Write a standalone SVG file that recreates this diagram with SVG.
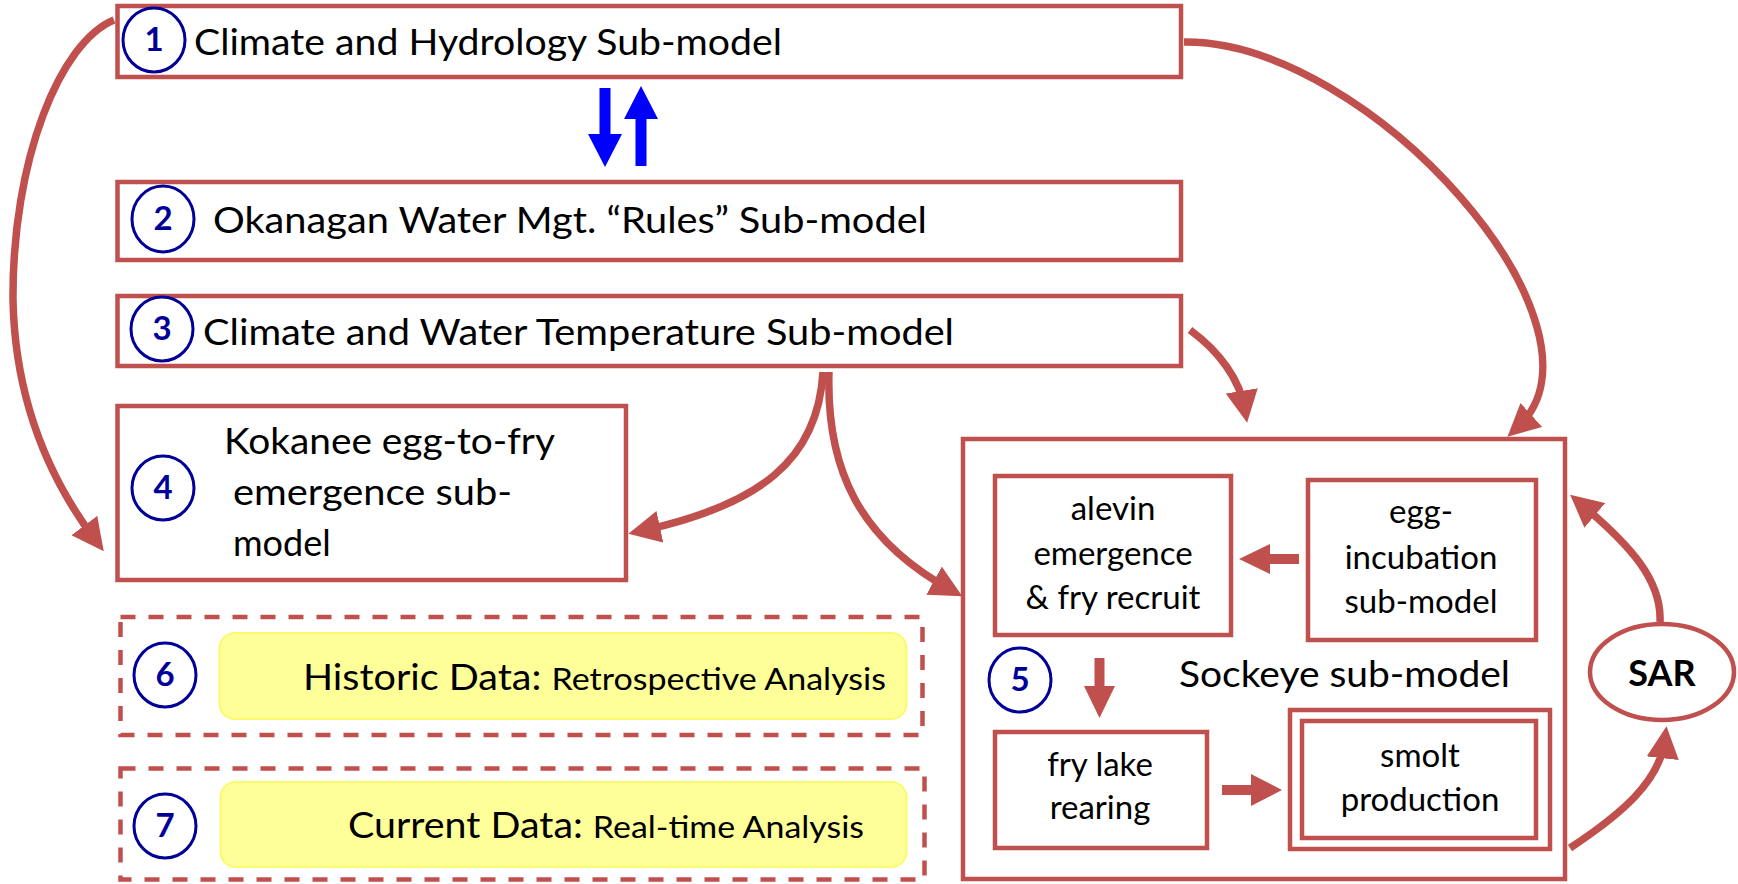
<svg xmlns="http://www.w3.org/2000/svg" width="1738" height="884" viewBox="0 0 1738 884">
  <style>
    .box { fill: #ffffff; stroke: #C0504D; stroke-width: 4.5; }
    .dash { fill: none; stroke: #C0504D; stroke-width: 4.5; stroke-dasharray: 15 13; }
    .note { fill: #FFFF99; stroke: #FAFA6E; stroke-width: 2; }
    .num { fill: #ffffff; stroke: #000099; stroke-width: 3; }
    .numt { font-family: Lato, "Liberation Sans", sans-serif; font-weight: bold; font-size: 33px; fill: #000099; text-anchor: middle; }
    .t { font-family: Lato, "Liberation Sans", sans-serif; font-size: 36px; fill: #000000; }
    .ts { font-family: Lato, "Liberation Sans", sans-serif; font-size: 33px; fill: #000000; text-anchor: middle; }
    .link { fill: none; stroke: #C0504D; stroke-width: 7.5; marker-end: url(#ah); }
    .block { fill: #C0504D; }
    .blue { fill: #0000FF; }
  </style>
  <defs>
    <marker id="ah" viewBox="0 0 10 10" refX="6" refY="5" markerWidth="4.3" markerHeight="4.3" orient="auto">
      <path d="M0,0 L10,5 L0,10 z" fill="#C0504D"/>
    </marker>
  </defs>

  <rect width="1738" height="884" fill="#ffffff"/>

  <!-- connectors -->
  <g id="connectors">
    <!-- 1 -> 4 -->
    <path class="link" d="M114,20 C60,42 12,160 13,300 C15,400 50,480 96,541"/>
    <!-- 1 -> 5 -->
    <path class="link" d="M1184,42 C1370,40 1625,330 1517,428"/>
    <!-- 3 -> 5 (short) -->
    <path class="link" d="M1190,330 C1220,352 1240,380 1245,410"/>
    <!-- 3 -> 4 -->
    <path class="link" d="M823,372 C818,460 760,505 641,531"/>
    <!-- 3 -> 5 (left side) -->
    <path class="link" d="M829,372 C826,470 860,540 951,590"/>
    <!-- 5 -> SAR -->
    <path class="link" d="M1570,848 C1620,815 1660,782 1665,739"/>
    <!-- SAR -> 5 -->
    <path class="link" d="M1660,622 C1662,580 1630,545 1580,503"/>
    <!-- 1 <-> 2 exchange -->
    <polygon class="blue" points="599.5,88 610.5,88 610.5,134 622,134 605,167 588,134 599.5,134"/>
    <polygon class="blue" points="641,86 658,119 646.5,119 646.5,166 635.5,166 635.5,119 624,119"/>
  </g>

  <!-- 1 -->
  <g id="node1">
    <rect class="box" x="117.5" y="6" width="1063.5" height="71"/>
    <ellipse class="num" cx="154" cy="40" rx="31" ry="32"/>
    <text class="numt" x="154" y="51">1</text>
    <text class="t" x="194" y="55" textLength="588" lengthAdjust="spacingAndGlyphs">Climate and Hydrology Sub-model</text>
  </g>

  <!-- 2 -->
  <g id="node2">
    <rect class="box" x="117.5" y="182" width="1063.5" height="78"/>
    <ellipse class="num" cx="163" cy="219" rx="31" ry="33"/>
    <text class="numt" x="163" y="230">2</text>
    <text class="t" x="213" y="233" textLength="714" lengthAdjust="spacingAndGlyphs">Okanagan Water Mgt. “Rules” Sub-model</text>
  </g>

  <!-- 3 -->
  <g id="node3">
    <rect class="box" x="117.5" y="296" width="1063.5" height="70"/>
    <ellipse class="num" cx="162" cy="329" rx="31" ry="32"/>
    <text class="numt" x="162" y="340">3</text>
    <text class="t" x="203" y="345" textLength="751" lengthAdjust="spacingAndGlyphs">Climate and Water Temperature Sub-model</text>
  </g>

  <!-- 4 -->
  <g id="node4">
    <rect class="box" x="117.5" y="406" width="508.5" height="174"/>
    <ellipse class="num" cx="163" cy="488" rx="31" ry="32"/>
    <text class="numt" x="163" y="499">4</text>
    <text class="t" x="224" y="454" textLength="331" lengthAdjust="spacingAndGlyphs">Kokanee egg-to-fry</text>
    <text class="t" x="233" y="505" textLength="279" lengthAdjust="spacingAndGlyphs">emergence sub-</text>
    <text class="t" x="233" y="556">model</text>
  </g>

  <!-- 5 -->
  <g id="node5">
    <rect class="box" x="963" y="439" width="602" height="440"/>
    <rect class="box" x="995" y="476" width="236" height="159"/>
    <text class="ts" x="1113" y="520">alevin</text>
    <text class="ts" x="1113" y="565">emergence</text>
    <text class="ts" x="1113" y="609">&amp; fry recruit</text>
    <rect class="box" x="1308" y="480" width="228" height="160"/>
    <text class="ts" x="1421" y="523">egg-</text>
    <text class="ts" x="1421" y="569">incubation</text>
    <text class="ts" x="1421" y="613">sub-model</text>
    <rect class="box" x="995" y="732" width="212" height="116"/>
    <text class="ts" x="1100" y="776">fry lake</text>
    <text class="ts" x="1100" y="819">rearing</text>
    <rect class="box" x="1290" y="710" width="260" height="139"/>
    <rect class="box" x="1302" y="721" width="234" height="117"/>
    <text class="ts" x="1420" y="767">smolt</text>
    <text class="ts" x="1420" y="811">production</text>
    <ellipse class="num" cx="1020" cy="680" rx="31" ry="32"/>
    <text class="numt" x="1020" y="691">5</text>
    <text class="t" x="1179" y="687" textLength="331" lengthAdjust="spacingAndGlyphs">Sockeye sub-model</text>
    <!-- internal flow -->
    <polygon class="block" points="1299,554 1270,554 1270,544 1239,559 1270,574 1270,564 1299,564"/>
    <polygon class="block" points="1094.5,658 1104.5,658 1104.5,686 1115,686 1099.5,718 1084,686 1094.5,686"/>
    <polygon class="block" points="1222,785 1251,785 1251,774 1282,790 1251,806 1251,795 1222,795"/>
  </g>

  <!-- SAR -->
  <g id="sar">
    <ellipse cx="1662" cy="672" rx="72" ry="48" fill="#ffffff" stroke="#C0504D" stroke-width="4.5"/>
    <text x="1662" y="686" font-family="Lato, 'Liberation Sans', sans-serif" font-weight="bold" font-size="36" text-anchor="middle">SAR</text>
  </g>

  <!-- 6 -->
  <g id="node6">
    <rect class="dash" x="120.5" y="617" width="802" height="118"/>
    <ellipse class="num" cx="165" cy="675" rx="31" ry="32"/>
    <text class="numt" x="165" y="686">6</text>
    <rect class="note" x="219.5" y="633" width="687" height="86" rx="15"/>
    <text class="t" x="303" y="690" textLength="583" lengthAdjust="spacingAndGlyphs">Historic Data<tspan>: </tspan><tspan font-size="31">Retrospective Analysis</tspan></text>
  </g>

  <!-- 7 -->
  <g id="node7">
    <rect class="dash" x="120.5" y="768.5" width="804" height="111"/>
    <ellipse class="num" cx="165" cy="826" rx="31" ry="32"/>
    <text class="numt" x="165" y="837">7</text>
    <rect class="note" x="220.5" y="782" width="686" height="85" rx="15"/>
    <text class="t" x="348" y="838" textLength="516" lengthAdjust="spacingAndGlyphs">Current Data<tspan>: </tspan><tspan font-size="31">Real-time Analysis</tspan></text>
  </g>
</svg>
